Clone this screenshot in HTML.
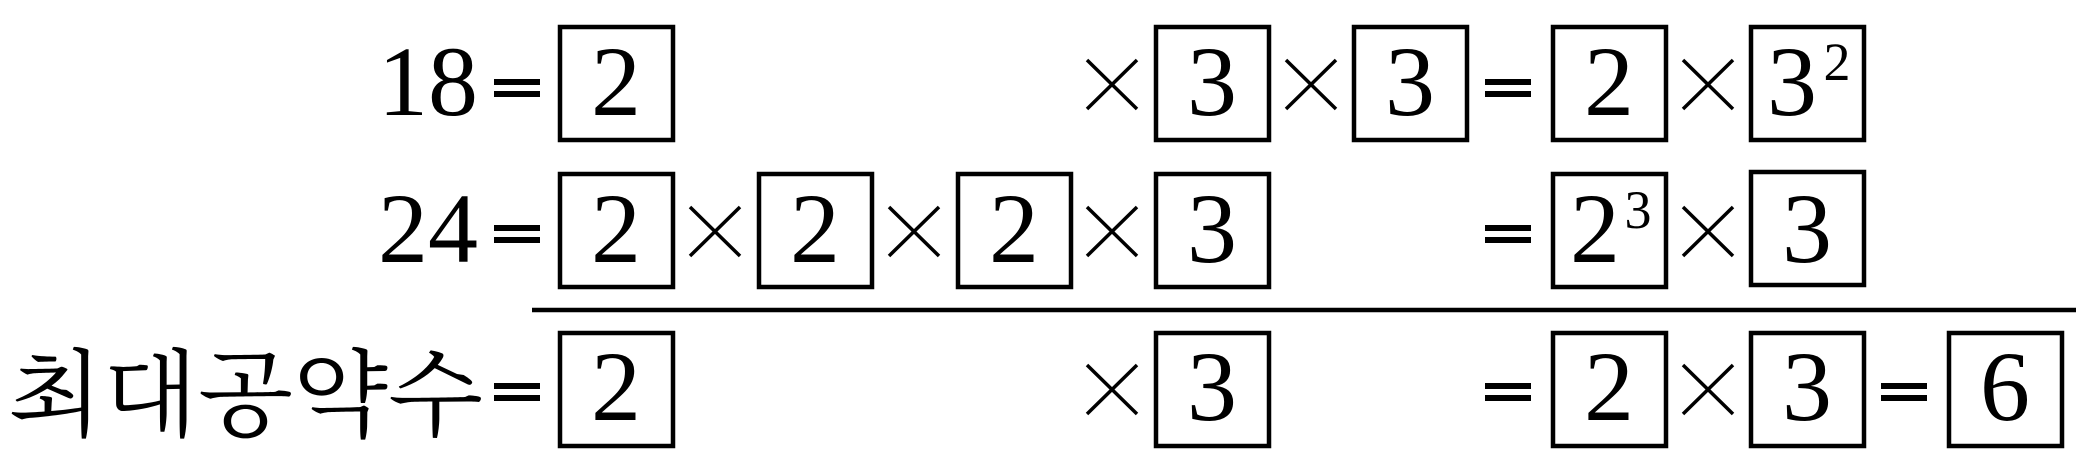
<!DOCTYPE html>
<html><head><meta charset="utf-8"><style>
html,body{margin:0;padding:0;background:#fff;width:2076px;height:449px;overflow:hidden}
svg text{font-family:"Liberation Serif",serif;fill:#000}
.k{font-family:"Liberation Serif","Noto Serif CJK SC","Noto Sans CJK KR",serif}
</style></head><body>
<svg width="2076" height="449" xmlns="http://www.w3.org/2000/svg">
<g fill="none" stroke="#000" stroke-width="4.5">
<rect x="560" y="27" width="113" height="113"/>
<rect x="1156" y="27" width="113" height="113"/>
<rect x="1354" y="27" width="113" height="113"/>
<rect x="1553" y="27" width="113" height="113"/>
<rect x="1751" y="27" width="113" height="113"/>
<rect x="560" y="174" width="113" height="113"/>
<rect x="759" y="174" width="113" height="113"/>
<rect x="958" y="174" width="113" height="113"/>
<rect x="1156" y="174" width="113" height="113"/>
<rect x="1553" y="174" width="113" height="113"/>
<rect x="1751" y="172" width="113" height="113"/>
<rect x="560" y="333" width="113" height="113"/>
<rect x="1156" y="333" width="113" height="113"/>
<rect x="1553" y="333" width="113" height="113"/>
<rect x="1751" y="333" width="113" height="113"/>
<rect x="1949" y="333" width="113" height="113"/>
<line x1="532" y1="310" x2="2076" y2="310"/>
</g>
<g stroke="#000" stroke-width="3.5">
<path d="M1087 60 L1137 109 M1137 60 L1087 109"/>
<path d="M1286 60 L1336 109 M1336 60 L1286 109"/>
<path d="M1683 60 L1733 109 M1733 60 L1683 109"/>
<path d="M690 207 L740 256 M740 207 L690 256"/>
<path d="M889 207 L939 256 M939 207 L889 256"/>
<path d="M1087 207 L1137 256 M1137 207 L1087 256"/>
<path d="M1683 207 L1733 256 M1733 207 L1683 256"/>
<path d="M1087 365 L1137 414 M1137 365 L1087 414"/>
<path d="M1683 365 L1733 414 M1733 365 L1683 414"/>
</g>
<g fill="#000">
<rect x="494" y="79" width="46" height="6"/><rect x="494" y="91" width="46" height="6"/>
<rect x="494" y="225" width="46" height="6"/><rect x="494" y="237" width="46" height="6"/>
<rect x="494" y="383" width="46" height="6"/><rect x="494" y="395" width="46" height="6"/>
<rect x="1485" y="79" width="46" height="6"/><rect x="1485" y="91" width="46" height="6"/>
<rect x="1485" y="225" width="46" height="6"/><rect x="1485" y="237" width="46" height="6"/>
<rect x="1485" y="383" width="46" height="6"/><rect x="1485" y="395" width="46" height="6"/>
<rect x="1881" y="383" width="46" height="6"/><rect x="1881" y="395" width="46" height="6"/>
</g>
<g font-size="100" text-anchor="middle">
<text x="428" y="115">18</text>
<text x="616" y="115">2</text>
<text x="1212" y="115">3</text>
<text x="1410" y="115">3</text>
<text x="1609" y="115">2</text>
<text x="1792" y="115">3</text>
<text x="1837" y="80" font-size="54">2</text>
<text x="428" y="262">24</text>
<text x="616" y="262">2</text>
<text x="815" y="262">2</text>
<text x="1014" y="262">2</text>
<text x="1212" y="262">3</text>
<text x="1595" y="262">2</text>
<text x="1638" y="228" font-size="54">3</text>
<text x="1807" y="262">3</text>
<text x="616" y="420">2</text>
<text x="1212" y="420">3</text>
<text x="1609" y="420">2</text>
<text x="1807" y="420">3</text>
<text x="2005" y="420">6</text>
</g>
<text class="k" x="8" y="428" font-size="95" textLength="475" lengthAdjust="spacingAndGlyphs">최대공약수</text>
</svg>
</body></html>
